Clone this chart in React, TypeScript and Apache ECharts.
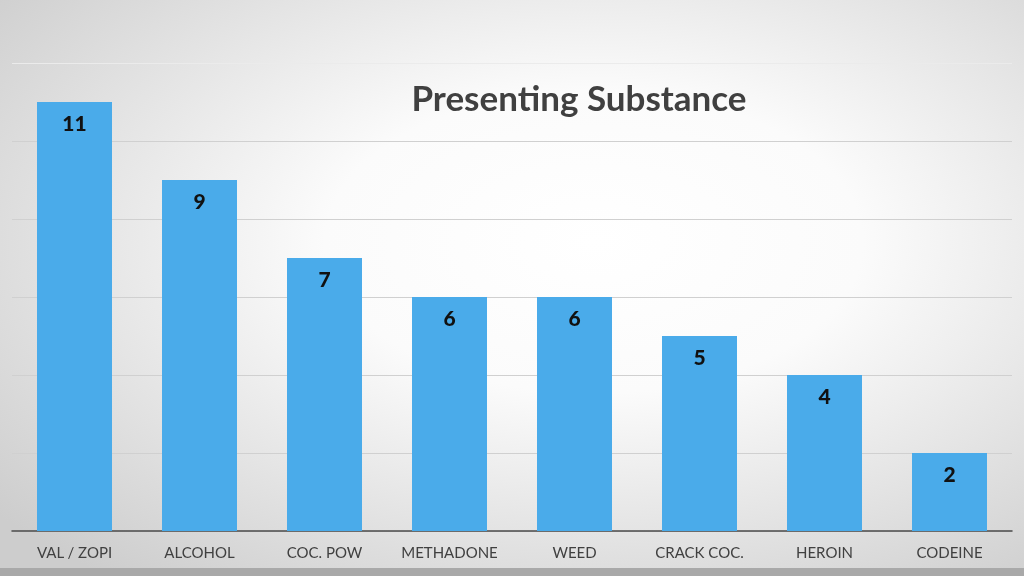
import React, { useEffect, useRef } from "react";
import * as echarts from "echarts";

const categories = ["VAL / ZOPI", "ALCOHOL", "COC. POW", "METHADONE", "WEED", "CRACK COC.", "HEROIN", "CODEINE"];
const counts = [11, 9, 7, 6, 6, 5, 4, 2];
const chartTitle = "Presenting Substance";

export default function App() {
  const ref = useRef<HTMLDivElement>(null);
  useEffect(() => {
    if (!ref.current) return;
    const chart = echarts.init(ref.current, null, { renderer: "svg" });
    chart.setOption({
      animation: false,
      backgroundColor: {
        type: "radial",
        x: 0.58,
        y: 0.42,
        r: 0.75,
        colorStops: [
          { offset: 0, color: "#ffffff" },
          { offset: 0.35, color: "#fbfbfb" },
          { offset: 1, color: "#cdcdcd" },
        ],
      },
      title: {
        text: chartTitle,
        left: 574,
        top: 74,
        textAlign: "center",
        textStyle: { fontFamily: "Lato", fontWeight: "bold", fontSize: 35, color: "#404040" },
      },
      grid: { left: 12, right: 12, top: 63, bottom: 45, containLabel: false },
      xAxis: {
        type: "category",
        data: categories,
        axisTick: { show: false },
        axisLine: { lineStyle: { color: "#4a4a4a", width: 1.5 } },
        axisLabel: { color: "#404040", fontSize: 15, fontFamily: "Lato", margin: 13, interval: 0 },
      },
      yAxis: {
        type: "value",
        min: 0,
        max: 12,
        interval: 2,
        axisLabel: { show: false },
        axisLine: { show: false },
        axisTick: { show: false },
        splitLine: {
          lineStyle: {
            color: ["#d0d0d0", "#d0d0d0", "#d0d0d0", "#d0d0d0", "#d0d0d0", "#d0d0d0", "#ebebeb"],
            width: 1,
          },
        },
      },
      series: [
        {
          type: "bar",
          data: counts,
          barCategoryGap: "40%",
          itemStyle: { color: "#4aabea" },
          label: {
            show: true,
            position: "insideTop",
            distance: 10,
            color: "#111111",
            fontSize: 21,
            fontWeight: 900,
            fontFamily: "Lato",
          },
        },
      ],
      graphic: [
        {
          type: "rect",
          shape: { x: 0, y: 568, width: 1024, height: 8 },
          style: { fill: "#a9a9a9" },
        },
      ],
    });
    return () => chart.dispose();
  }, []);
  return <div ref={ref} style={{ position: "fixed", left: 0, top: 0, width: 1024, height: 576 }} />;
}
